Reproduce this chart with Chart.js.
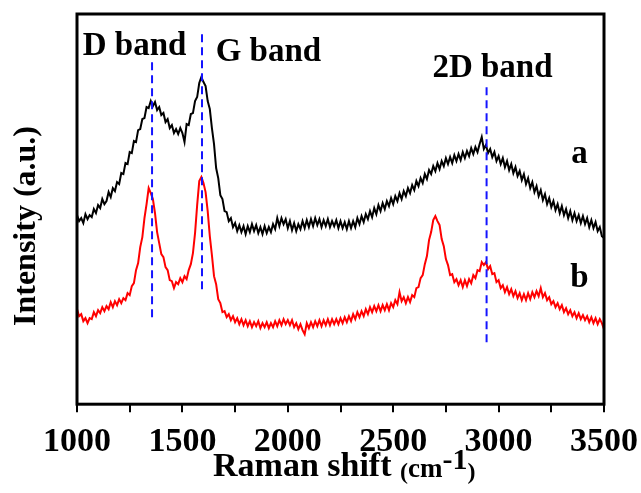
<!DOCTYPE html>
<html>
<head>
<meta charset="utf-8">
<script src="https://cdn.jsdelivr.net/npm/chart.js@4.4.0/dist/chart.umd.min.js"></script>
<style>
    html, body { margin: 0; padding: 0; background: #fff; }
</style>
</head>
<body>
<canvas id="myChart" width="641" height="493"></canvas>
<script>
// Data

var ramanShift = [1000, 1010, 1020, 1030, 1040, 1050, 1060, 1070, 1080, 1090,
    1100, 1110, 1120, 1130, 1140, 1150, 1160, 1170, 1180, 1190,
    1200, 1210, 1220, 1230, 1240, 1250, 1260, 1270, 1280, 1290,
    1300, 1310, 1320, 1330, 1340, 1350, 1360, 1370, 1380, 1390,
    1400, 1410, 1420, 1430, 1440, 1450, 1460, 1470, 1480, 1490,
    1500, 1510, 1520, 1530, 1540, 1550, 1560, 1570, 1580, 1590,
    1600, 1610, 1620, 1630, 1640, 1650, 1660, 1670, 1680, 1690,
    1700, 1710, 1720, 1730, 1740, 1750, 1760, 1770, 1780, 1790,
    1800, 1810, 1820, 1830, 1840, 1850, 1860, 1870, 1880, 1890,
    1900, 1910, 1920, 1930, 1940, 1950, 1960, 1970, 1980, 1990,
    2000, 2010, 2020, 2030, 2040, 2050, 2060, 2070, 2080, 2090,
    2100, 2110, 2120, 2130, 2140, 2150, 2160, 2170, 2180, 2190,
    2200, 2210, 2220, 2230, 2240, 2250, 2260, 2270, 2280, 2290,
    2300, 2310, 2320, 2330, 2340, 2350, 2360, 2370, 2380, 2390,
    2400, 2410, 2420, 2430, 2440, 2450, 2460, 2470, 2480, 2490,
    2500, 2510, 2520, 2530, 2540, 2550, 2560, 2570, 2580, 2590,
    2600, 2610, 2620, 2630, 2640, 2650, 2660, 2670, 2680, 2690,
    2700, 2710, 2720, 2730, 2740, 2750, 2760, 2770, 2780, 2790,
    2800, 2810, 2820, 2830, 2840, 2850, 2860, 2870, 2880, 2890,
    2900, 2910, 2920, 2930, 2940, 2950, 2960, 2970, 2980, 2990,
    3000, 3010, 3020, 3030, 3040, 3050, 3060, 3070, 3080, 3090,
    3100, 3110, 3120, 3130, 3140, 3150, 3160, 3170, 3180, 3190,
    3200, 3210, 3220, 3230, 3240, 3250, 3260, 3270, 3280, 3290,
    3300, 3310, 3320, 3330, 3340, 3350, 3360, 3370, 3380, 3390,
    3400, 3410, 3420, 3430, 3440, 3450, 3460, 3470, 3480, 3490,
    3500];

// sample a (black)
var intensityA = [189, 183, 186, 181, 190, 185, 189, 187, 195, 191,
    199, 196, 205, 200, 203, 212, 207, 216, 213, 222,
    220, 231, 230, 241, 240, 252, 251, 263, 262, 274,
    275, 285, 286, 297, 296, 303, 298, 302, 294, 297,
    289, 291, 282, 285, 276, 279, 271, 275, 270, 276,
    271, 262, 280, 279, 290, 291, 303, 307, 321, 327,
    322, 318, 303, 295, 276, 260, 236, 226, 209, 205,
    193, 192, 183, 186, 177, 181, 173, 179, 172, 178,
    170, 178, 172, 180, 173, 179, 171, 177, 170, 178,
    171, 177, 172, 180, 175, 186, 178, 186, 180, 185,
    176, 183, 174, 181, 173, 180, 175, 183, 176, 184,
    177, 185, 178, 186, 179, 185, 177, 184, 178, 185,
    177, 183, 178, 184, 176, 183, 176, 182, 175, 183,
    176, 183, 177, 186, 180, 188, 182, 190, 185, 193,
    187, 196, 190, 199, 193, 201, 195, 203, 198, 206,
    200, 208, 203, 211, 205, 213, 208, 216, 211, 219,
    214, 223, 218, 226, 221, 230, 225, 234, 230, 238,
    233, 241, 235, 243, 238, 246, 240, 247, 241, 249,
    243, 250, 244, 252, 246, 253, 248, 256, 250, 257,
    252, 260, 267, 255, 259, 251, 255, 247, 252, 243,
    248, 240, 246, 237, 243, 234, 240, 231, 237, 228,
    233, 224, 230, 220, 226, 216, 222, 212, 218, 208,
    214, 204, 210, 200, 206, 197, 203, 194, 200, 191,
    198, 189, 195, 186, 193, 184, 191, 183, 189, 181,
    188, 180, 186, 177, 184, 176, 182, 173, 177, 168,
    166];

// sample b (red)
var intensityB = [95, 88, 90, 83, 86, 81, 86, 85, 92, 88,
    94, 91, 97, 93, 98, 95, 102, 97, 103, 99,
    105, 101, 106, 104, 111, 109, 118, 121, 134, 141,
    157, 167, 186, 200, 216, 211, 205, 191, 172, 161,
    150, 147, 137, 134, 124, 123, 116, 122, 120, 126,
    122, 128, 125, 134, 140, 151, 171, 199, 223, 227,
    221, 212, 193, 168, 149, 128, 120, 105, 101, 92,
    93, 87, 90, 84, 88, 82, 86, 80, 85, 79,
    84, 78, 83, 77, 82, 78, 83, 76, 81, 77,
    82, 76, 81, 77, 83, 78, 84, 79, 85, 80,
    84, 79, 84, 77, 81, 75, 80, 74, 70, 81,
    76, 82, 77, 83, 78, 84, 78, 84, 79, 85,
    79, 85, 80, 85, 80, 86, 81, 87, 82, 88,
    83, 90, 85, 92, 87, 93, 88, 95, 90, 97,
    92, 98, 93, 99, 93, 99, 94, 100, 94, 101,
    97, 104, 100, 112, 103, 107, 101, 107, 102, 109,
    107, 116, 117, 126, 129, 140, 148, 164, 172, 184,
    188, 183, 179, 165, 158, 145, 139, 129, 130, 122,
    125, 119, 124, 117, 124, 118, 125, 121, 129, 126,
    134, 133, 142, 139, 142, 135, 138, 130, 131, 122,
    124, 116, 119, 112, 117, 110, 115, 108, 113, 106,
    111, 104, 110, 104, 111, 105, 112, 107, 113, 108,
    116, 107, 111, 104, 107, 100, 103, 97, 101, 95,
    99, 92, 96, 90, 94, 88, 92, 86, 91, 85,
    89, 84, 88, 82, 87, 81, 86, 80, 85, 81,
    75];

// band markers
var bandNames = ['D band', 'G band', '2D band'];
var bandShift = [1356, 1593, 2943];
var bandTop = [344, 372, 319];
var bandBottom = [87, 115, 62];

var sampleNames = ['a', 'b'];

// Text placement (data coordinates)

var bandLabelAt = [[1273, 349], [1908, 343], [2971, 327]];
var sampleLabelAt = [[3384, 241], [3384, 117]];

var fontFamily = '"Liberation Serif", "Times New Roman", serif';

function points(xs, ys) {
    var out = [];
    for (let i = 0; i < xs.length; i++) {
        out.push({ x: xs[i], y: ys[i] });
    }
    return out;
}

var datasets = [];

for (let i = 0; i < bandShift.length; i++) {
    datasets.push({
        label: bandNames[i],
        data: [{ x: bandShift[i], y: bandBottom[i] }, { x: bandShift[i], y: bandTop[i] }],
        borderColor: '#1414ff',
        borderWidth: 2,
        borderDash: [8, 5],
        pointRadius: 0,
    });
}

datasets.push({
    label: 'a',
    data: points(ramanShift, intensityA),
    borderColor: '#000000',
    borderWidth: 2,
    pointRadius: 0,
});

datasets.push({
    label: 'b',
    data: points(ramanShift, intensityB),
    borderColor: '#ff0000',
    borderWidth: 2,
    pointRadius: 0,
});

// Frame and text

var decorations = {
    id: 'decorations',
    afterDraw: function (chart) {
        var ctx = chart.ctx;
        var area = chart.chartArea;
        var sx = chart.scales.x;
        var sy = chart.scales.y;

        ctx.save();
        ctx.lineWidth = 3;
        ctx.strokeStyle = '#000';
        ctx.strokeRect(area.left, area.top, area.right - area.left, area.bottom - area.top);

        ctx.fillStyle = '#000';
        ctx.textAlign = 'center';
        ctx.textBaseline = 'alphabetic';
        ctx.font = 'bold 33px ' + fontFamily;
        for (let i = 0; i < bandNames.length; i++) {
            ctx.fillText(bandNames[i], sx.getPixelForValue(bandLabelAt[i][0]), sy.getPixelForValue(bandLabelAt[i][1]));
        }
        for (let i = 0; i < sampleNames.length; i++) {
            ctx.fillText(sampleNames[i], sx.getPixelForValue(sampleLabelAt[i][0]), sy.getPixelForValue(sampleLabelAt[i][1]));
        }

        // y title
        ctx.save();
        ctx.translate(35, 226);
        ctx.rotate(-Math.PI / 2);
        ctx.font = 'bold 32px ' + fontFamily;
        ctx.fillText('Intensity (a.u.)', 0, 0);
        ctx.restore();

        // x title
        ctx.textAlign = 'left';
        var x = 213;
        var base = 476;
        ctx.font = 'bold 34px ' + fontFamily;
        ctx.fillText('Raman shift ', x, base);
        x += ctx.measureText('Raman shift ').width;
        ctx.font = 'bold 24px ' + fontFamily;
        ctx.fillText('(', x, base + 3);
        x += ctx.measureText('(').width;
        ctx.font = 'bold 27px ' + fontFamily;
        ctx.fillText('cm', x, base + 1);
        x += ctx.measureText('cm').width;
        ctx.font = 'bold 30px ' + fontFamily;
        ctx.fillText('-1', x, base - 7);
        x += ctx.measureText('-1').width;
        ctx.font = 'bold 24px ' + fontFamily;
        ctx.fillText(')', x, base + 3);
        ctx.restore();
    }
};

// Chart

var ctx = document.getElementById('myChart').getContext('2d');
var chart = new Chart(ctx, {
    type: 'line',
    data: { datasets: datasets },
    options: {
        responsive: false,
        animation: false,
        events: [],
        layout: {
            padding: { left: 77, right: 37, top: 14, bottom: 20 }
        },
        plugins: {
            legend: { display: false },
            tooltip: { enabled: false },
        },
        elements: {
            line: { tension: 0 },
        },
        scales: {
            x: {
                type: 'linear',
                min: 1000,
                max: 3500,
                border: { display: false },
                afterFit: function (scale) {
                    // let layout padding decide the plot box
                    scale.paddingLeft = 0;
                    scale.paddingRight = 0;
                },
                grid: {
                    drawOnChartArea: false,
                    drawTicks: true,
                    tickLength: 8,
                    color: '#000',
                    lineWidth: 2,
                },
                ticks: {
                    stepSize: 250,
                    autoSkip: false,
                    maxRotation: 0,
                    padding: 10,
                    color: '#000',
                    font: { family: fontFamily, size: 34, weight: 'bold' },
                    callback: function (value) {
                        return value % 500 === 0 ? value : '';
                    }
                }
            },
            y: {
                display: false,
                min: 0,
                max: 390,
            }
        }
    },
    plugins: [decorations]
});
</script>
</body>
</html>
